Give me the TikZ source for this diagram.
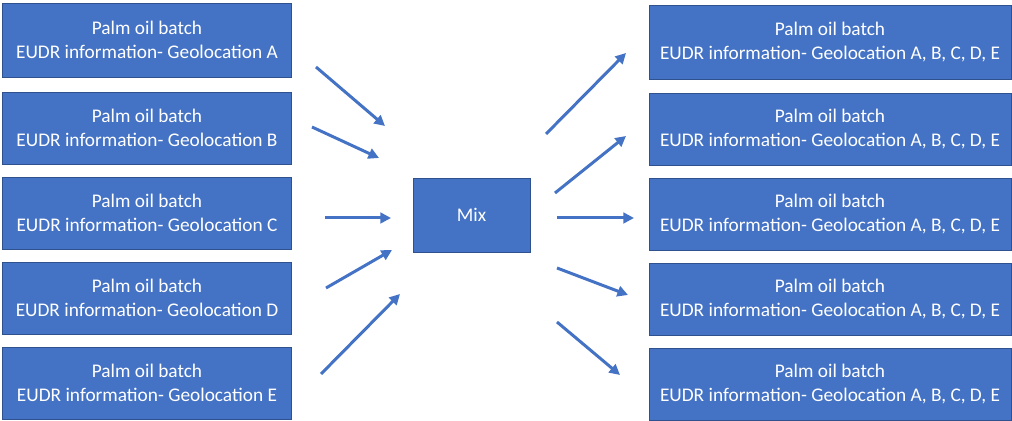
\documentclass[tikz,border=0pt]{standalone}
\usepackage{fontspec}
\setmainfont{Carlito}
\usepackage{xcolor}
\usetikzlibrary{arrows.meta}
\definecolor{boxblue}{HTML}{4472C4}
\definecolor{boxedge}{HTML}{2F528F}
\tikzset{
    batch/.style={draw=boxedge, line width=0.5pt, fill=boxblue, text=white, align=center,
        font=\fontsize{11pt}{13.4pt}\selectfont, inner sep=0pt},
    flow/.style={draw=boxblue, line width=1.7pt, -{Triangle[length=6pt,width=6pt]}}
}

\begin{document}
\begin{tikzpicture}[x=0.02cm, y=-0.02cm]
        \useasboundingbox (0,0) rectangle (1012,421);

        \node[batch, minimum width=5.78cm, minimum height=1.48cm] (A_1) at (147,40) {Palm oil batch\\EUDR information- Geolocation A};
        \node[batch, minimum width=5.78cm, minimum height=1.44cm] (A_2) at (147,128) {Palm oil batch\\EUDR information- Geolocation B};
        \node[batch, minimum width=5.78cm, minimum height=1.44cm] (A_3) at (147,213) {Palm oil batch\\EUDR information- Geolocation C};
        \node[batch, minimum width=5.78cm, minimum height=1.44cm] (A_4) at (147,298) {Palm oil batch\\EUDR information- Geolocation D};
        \node[batch, minimum width=5.78cm, minimum height=1.44cm] (A_5) at (147,383) {Palm oil batch\\EUDR information- Geolocation E};

        \node[batch, minimum width=2.34cm, minimum height=1.48cm] (M) at (471.5,215) {Mix};

        \node[batch, minimum width=7.24cm, minimum height=1.48cm] (B_1) at (830,42) {Palm oil batch\\EUDR information- Geolocation A, B, C, D, E};
        \node[batch, minimum width=7.24cm, minimum height=1.44cm] (B_2) at (830,129) {Palm oil batch\\EUDR information- Geolocation A, B, C, D, E};
        \node[batch, minimum width=7.24cm, minimum height=1.44cm] (B_3) at (830,214) {Palm oil batch\\EUDR information- Geolocation A, B, C, D, E};
        \node[batch, minimum width=7.24cm, minimum height=1.44cm] (B_4) at (830,299) {Palm oil batch\\EUDR information- Geolocation A, B, C, D, E};
        \node[batch, minimum width=7.24cm, minimum height=1.44cm] (B_5) at (830,384) {Palm oil batch\\EUDR information- Geolocation A, B, C, D, E};

        \coordinate (S_1) at (316,67);
        \coordinate (S_2) at (312,127);
        \coordinate (S_3) at (325,218);
        \coordinate (S_4) at (326,288);
        \coordinate (S_5) at (321,374);
        \coordinate (T_1) at (385,126);
        \coordinate (T_2) at (379,158);
        \coordinate (T_3) at (391,218);
        \coordinate (T_4) at (392,250);
        \coordinate (T_5) at (400,294);

        \coordinate (U_1) at (546,134);
        \coordinate (U_2) at (555,193);
        \coordinate (U_3) at (557,218);
        \coordinate (U_4) at (557,268);
        \coordinate (U_5) at (557,322);
        \coordinate (V_1) at (626,53);
        \coordinate (V_2) at (626,136);
        \coordinate (V_3) at (634,218);
        \coordinate (V_4) at (628,295);
        \coordinate (V_5) at (620,375);

        \draw[flow] (S_1) -- (T_1);
        \draw[flow] (S_2) -- (T_2);
        \draw[flow] (S_3) -- (T_3);
        \draw[flow] (S_4) -- (T_4);
        \draw[flow] (S_5) -- (T_5);
        \draw[flow] (U_1) -- (V_1);
        \draw[flow] (U_2) -- (V_2);
        \draw[flow] (U_3) -- (V_3);
        \draw[flow] (U_4) -- (V_4);
        \draw[flow] (U_5) -- (V_5);
    \end{tikzpicture}
\end{document}
